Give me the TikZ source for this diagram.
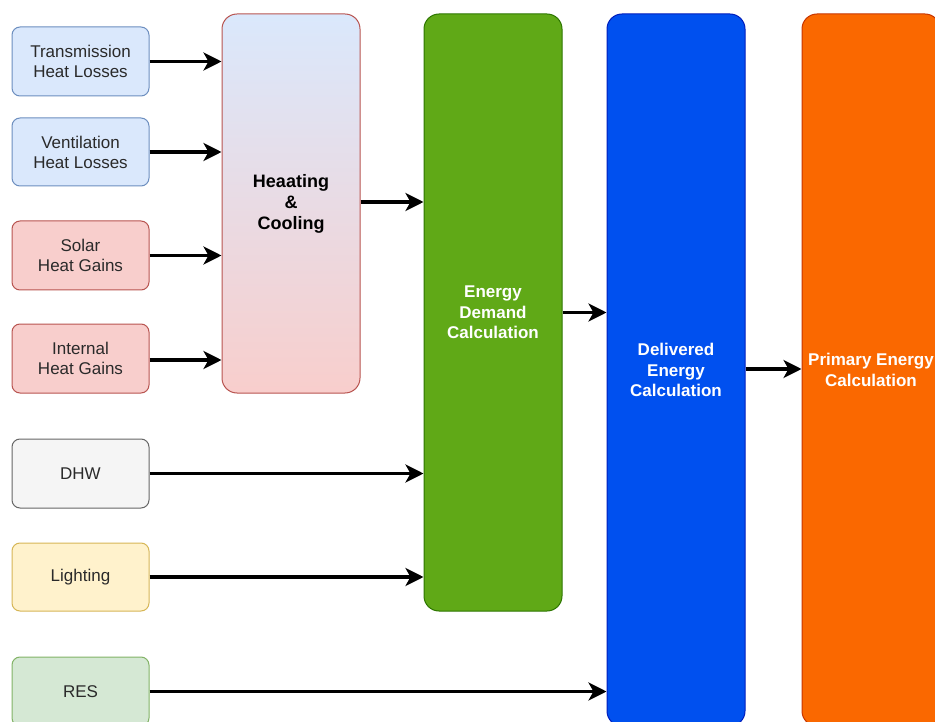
\documentclass[tikz,border=0pt]{standalone}
\usepackage{fontspec}
\setmainfont{Liberation Sans}
\usetikzlibrary{arrows.meta}

% draw.io style palette
\definecolor{blueFill}{HTML}{DAE8FC}\definecolor{blueLine}{HTML}{6C8EBF}
\definecolor{redFill}{HTML}{F8CECC}\definecolor{redLine}{HTML}{B85450}
\definecolor{greyFill}{HTML}{F5F5F5}\definecolor{greyLine}{HTML}{666666}
\definecolor{yellowFill}{HTML}{FFF2CC}\definecolor{yellowLine}{HTML}{D6B656}
\definecolor{greenFill}{HTML}{D5E8D4}\definecolor{greenLine}{HTML}{82B366}
\definecolor{demandFill}{HTML}{60A917}\definecolor{demandLine}{HTML}{2D7600}
\definecolor{deliveredFill}{HTML}{0050EF}\definecolor{deliveredLine}{HTML}{001DBC}
\definecolor{primaryFill}{HTML}{FA6800}\definecolor{primaryLine}{HTML}{C73500}
\definecolor{labelGrey}{HTML}{2A2A2A}

\begin{document}
\begin{tikzpicture}[x=1pt,y=-1pt,
  inputbox/.style={draw, line width=1pt, rounded corners=8pt, minimum width=137pt,
    minimum height=69pt, inner sep=0pt, align=center, text=labelGrey,
    font=\fontsize{17}{20}\selectfont},
  stagebox/.style={draw, line width=1pt, rounded corners=15pt, minimum width=138pt,
    inner sep=0pt, align=center, font=\bfseries\fontsize{17}{20.5}\selectfont},
  flow/.style={-{Stealth[length=18pt,width=18pt,inset=5pt]}, line width=3.2pt, black}]
\useasboundingbox (0,0) rectangle (935,722);
\clip (0,0) rectangle (935,722);

% input boxes
\node[inputbox, fill=blueFill, draw=blueLine] (trans) at (80.5,61.5) {Transmission\\Heat Losses};
\node[inputbox, fill=blueFill, draw=blueLine, minimum height=68pt] (vent) at (80.5,152) {Ventilation\\Heat Losses};
\node[inputbox, fill=redFill, draw=redLine] (solar) at (80.5,255.5) {Solar\\Heat Gains};
\node[inputbox, fill=redFill, draw=redLine] (internal) at (80.5,358.5) {Internal\\Heat Gains};
\node[inputbox, fill=greyFill, draw=greyLine] (dhw) at (80.5,473.5) {DHW};
\node[inputbox, fill=yellowFill, draw=yellowLine, minimum height=68pt] (light) at (80.5,577) {Lighting};
\node[inputbox, fill=greenFill, draw=greenLine] (res) at (80.5,691.5) {RES};

% calculation stages
\node[stagebox, draw=redLine, top color=blueFill, bottom color=redFill, minimum height=379pt,
  font=\bfseries\fontsize{18}{21}\selectfont] (heat) at (291,203.5) {Heaating\\\&\\Cooling};
\node[stagebox, fill=demandFill, draw=demandLine, text=white, minimum height=597pt]
  (demand) at (493,312.5) {Energy\\Demand\\Calculation};
\node[stagebox, fill=deliveredFill, draw=deliveredLine, text=white, minimum height=712pt]
  (delivered) at (676,370) {Delivered\\Energy\\Calculation};
\node[stagebox, fill=primaryFill, draw=primaryLine, text=white, minimum height=712pt]
  (primary) at (871,370) {Primary Energy\\Calculation};

% connectors
\draw[flow] (trans.east) -- (trans.east -| heat.west);
\draw[flow] (vent.east) -- (vent.east -| heat.west);
\draw[flow] (solar.east) -- (solar.east -| heat.west);
\draw[flow] ([yshift=-1.5pt]internal.east) -- ([yshift=-1.5pt]internal.east -| heat.west);
\draw[flow] ([yshift=1.5pt]heat.east) -- ([yshift=1.5pt]heat.east -| demand.west);
\draw[flow] (dhw.east) -- (dhw.east -| demand.west);
\draw[flow] (light.east) -- (light.east -| demand.west);
\draw[flow] (demand.east) -- (demand.east -| delivered.west);
\draw[flow] ([yshift=1pt]delivered.east) -- ([yshift=1pt]delivered.east -| primary.west);
\draw[flow] (res.east) -- (res.east -| delivered.west);
\end{tikzpicture}
\end{document}
